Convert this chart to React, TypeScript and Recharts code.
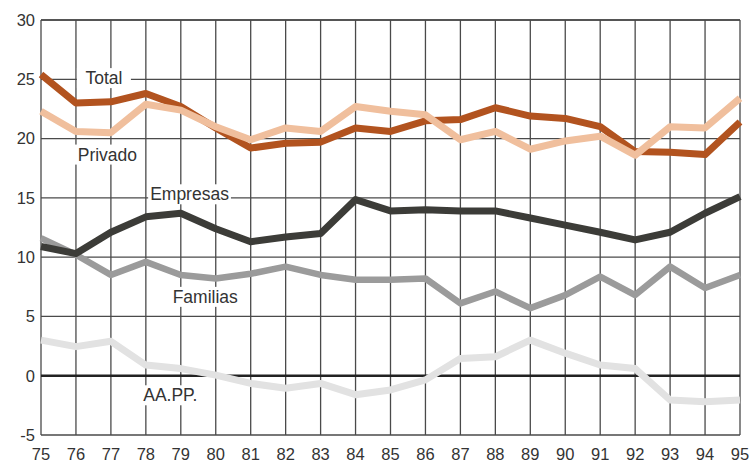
import React from 'react';
import { LineChart, Line, XAxis, YAxis, CartesianGrid, ReferenceLine, ReferenceDot } from 'recharts';

const years = [75, 76, 77, 78, 79, 80, 81, 82, 83, 84, 85, 86, 87, 88, 89, 90, 91, 92, 93, 94, 95];
const total = [25.4, 23.0, 23.1, 23.8, 22.7, 20.9, 19.2, 19.6, 19.7, 20.9, 20.6, 21.5, 21.6, 22.6, 21.9, 21.7, 21.0, 18.9, 18.85, 18.65, 21.4];
const privado = [22.3, 20.6, 20.5, 22.9, 22.4, 21.0, 19.9, 20.9, 20.6, 22.7, 22.3, 22.0, 19.9, 20.6, 19.1, 19.8, 20.2, 18.6, 21.0, 20.9, 23.4];
const empresas = [10.9, 10.3, 12.1, 13.4, 13.7, 12.4, 11.3, 11.7, 12.0, 14.85, 13.9, 14.0, 13.9, 13.9, 13.3, 12.7, 12.1, 11.45, 12.1, 13.7, 15.1];
const familias = [11.6, 10.2, 8.5, 9.6, 8.5, 8.2, 8.6, 9.2, 8.5, 8.1, 8.1, 8.2, 6.1, 7.1, 5.7, 6.8, 8.35, 6.8, 9.2, 7.4, 8.5];
const aapp = [3.0, 2.45, 2.9, 0.9, 0.6, 0.05, -0.65, -1.05, -0.65, -1.6, -1.2, -0.35, 1.45, 1.6, 3.0, 1.9, 0.9, 0.6, -2.05, -2.2, -2.05];
const yTicks = [-5, 0, 5, 10, 15, 20, 25, 30];

const labels = [
  { text: 'Total', x: 76.8, y: 25.1 },
  { text: 'Privado', x: 76.9, y: 18.65 },
  { text: 'Empresas', x: 79.25, y: 15.3 },
  { text: 'Familias', x: 79.7, y: 6.65 },
  { text: 'AA.PP.', x: 78.7, y: -1.65 },
];

const data = years.map((yr, i) => ({
  year: yr,
  total: total[i],
  privado: privado[i],
  empresas: empresas[i],
  familias: familias[i],
  aapp: aapp[i],
}));

const FONT = 'Liberation Sans, Arial, sans-serif';

const makeLabel = (text: string) => (props: any) => {
  const { cx, cy } = props;
  const w = text.length * 9.6 + 6;
  return (
    <g>
      <rect x={cx - w / 2} y={cy - 10} width={w} height={20} fill="#ffffff" />
      <text x={cx} y={cy} textAnchor="middle" dominantBaseline="central" fontSize={17.5} fontFamily={FONT} fill="#333">
        {text}
      </text>
    </g>
  );
};

export default function App() {
  return (
    <div style={{ position: 'absolute', left: 0, top: 0, background: '#fff' }}>
      <LineChart width={752} height={464} data={data} margin={{ top: 20, right: 12, bottom: 0, left: 0 }}>
        <CartesianGrid stroke="#4a4a4a" strokeWidth={1.3} horizontal vertical />
        <XAxis
          dataKey="year"
          type="number"
          domain={[75, 95]}
          ticks={years}
          interval={0}
          height={29}
          axisLine={false}
          tickLine={false}
          tickSize={0}
          tickMargin={13}
          tick={{ fontSize: 16.5, fontFamily: FONT, fill: '#333' }}
        />
        <YAxis
          domain={[-5, 30]}
          ticks={yTicks}
          width={41}
          axisLine={false}
          tickLine={false}
          tickSize={0}
          tickMargin={6}
          tick={{ fontSize: 16.5, fontFamily: FONT, fill: '#333' }}
        />
        <ReferenceLine y={0} stroke="#222" strokeWidth={2.5} />
        <ReferenceLine y={30} stroke="#4a4a4a" strokeWidth={1.3} />
        <Line dataKey="aapp" stroke="#e2e2e2" strokeWidth={7} dot={false} isAnimationActive={false} strokeLinejoin="round" />
        <Line dataKey="familias" stroke="#9b9b9b" strokeWidth={6.5} dot={false} isAnimationActive={false} strokeLinejoin="round" />
        <Line dataKey="empresas" stroke="#3c3c38" strokeWidth={7} dot={false} isAnimationActive={false} strokeLinejoin="round" />
        <Line dataKey="total" stroke="#b2531f" strokeWidth={7} dot={false} isAnimationActive={false} strokeLinejoin="round" />
        <Line dataKey="privado" stroke="#f0bf9d" strokeWidth={7} dot={false} isAnimationActive={false} strokeLinejoin="round" />
        {labels.map((l) => (
          <ReferenceDot key={l.text} x={l.x} y={l.y} r={0} shape={makeLabel(l.text)} ifOverflow="visible" />
        ))}
      </LineChart>
    </div>
  );
}
